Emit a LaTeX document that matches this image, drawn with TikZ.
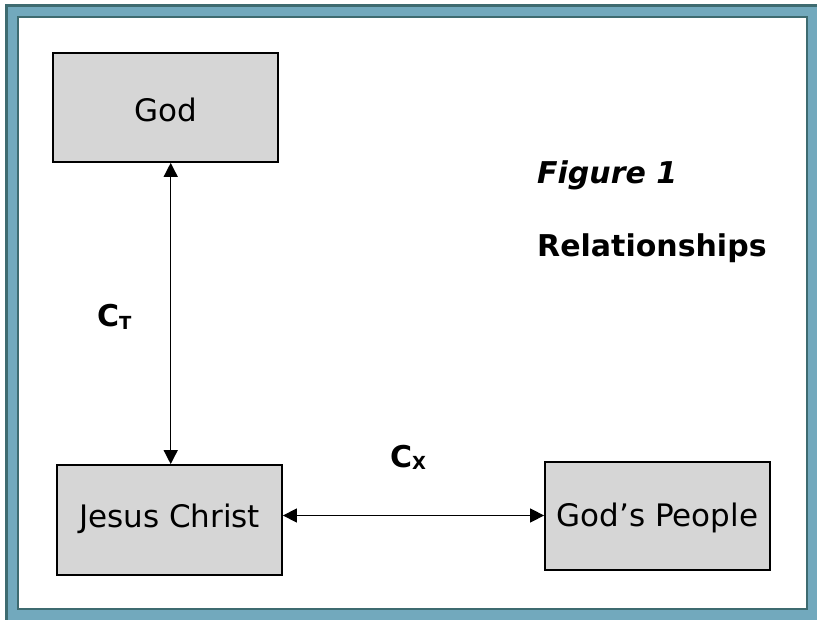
\documentclass[tikz,border=0pt]{standalone}
\usepackage{fontspec}
\setmainfont{DejaVu Sans}
\usetikzlibrary{arrows.meta}
\definecolor{framelight}{HTML}{72A9BD}
\definecolor{framedark}{HTML}{3E6B70}
\definecolor{boxgray}{HTML}{D6D6D6}
\tikzset{
  boxnode/.style={draw=black, line width=1.8pt, fill=boxgray, minimum width=225pt, minimum height=109pt, inner sep=0pt, text depth=0pt, font=\fontsize{31}{36}\selectfont},
  dbl/.style={line width=1.4pt, {Triangle[length=14pt,width=14pt]}-{Triangle[length=14pt,width=14pt]}},
  lbl/.style={anchor=base west, inner sep=0pt, font=\bfseries\fontsize{30}{34}\selectfont}
}
\begin{document}
\begin{tikzpicture}[x=1pt,y=-1pt]
\useasboundingbox (0,0) rectangle (817,620);
% frame
\fill[framelight] (5,4) rectangle (817,620);
\draw[framedark, line width=3.5pt] (6.7,620) -- (6.7,5.7) -- (817,5.7);
\fill[white, draw=framedark, line width=2pt] (18,17) rectangle (807,609);
% boxes
\node[boxnode, text height=29pt] (god) at (165.5,107.5) {God};
\node[boxnode, minimum height=110pt, text height=14pt] (jc) at (169.5,520) {Jesus Christ};
\node[boxnode, minimum height=108pt, text height=20pt] (gp) at (657.5,516) {God’s People};
% connectors
\draw[dbl] (god.south -| 170.7,0) -- (jc.north -| 170.7,0);
\draw[dbl] (jc.east |- 0,515.5) -- (gp.west |- 0,515.5);
% labels
\node[lbl] (ct) at (97,327) {C\raisebox{-2pt}{\fontsize{18}{18}\selectfont T}};
\node[lbl] (cx) at (390,467) {C\raisebox{-2pt}{\fontsize{18}{18}\selectfont X}};
\node[lbl, font=\bfseries\itshape\fontsize{30}{34}\selectfont] (fig) at (537,184) {Figure 1};
\node[lbl] (rel) at (537,257) {Relationships};
\end{tikzpicture}
\end{document}
